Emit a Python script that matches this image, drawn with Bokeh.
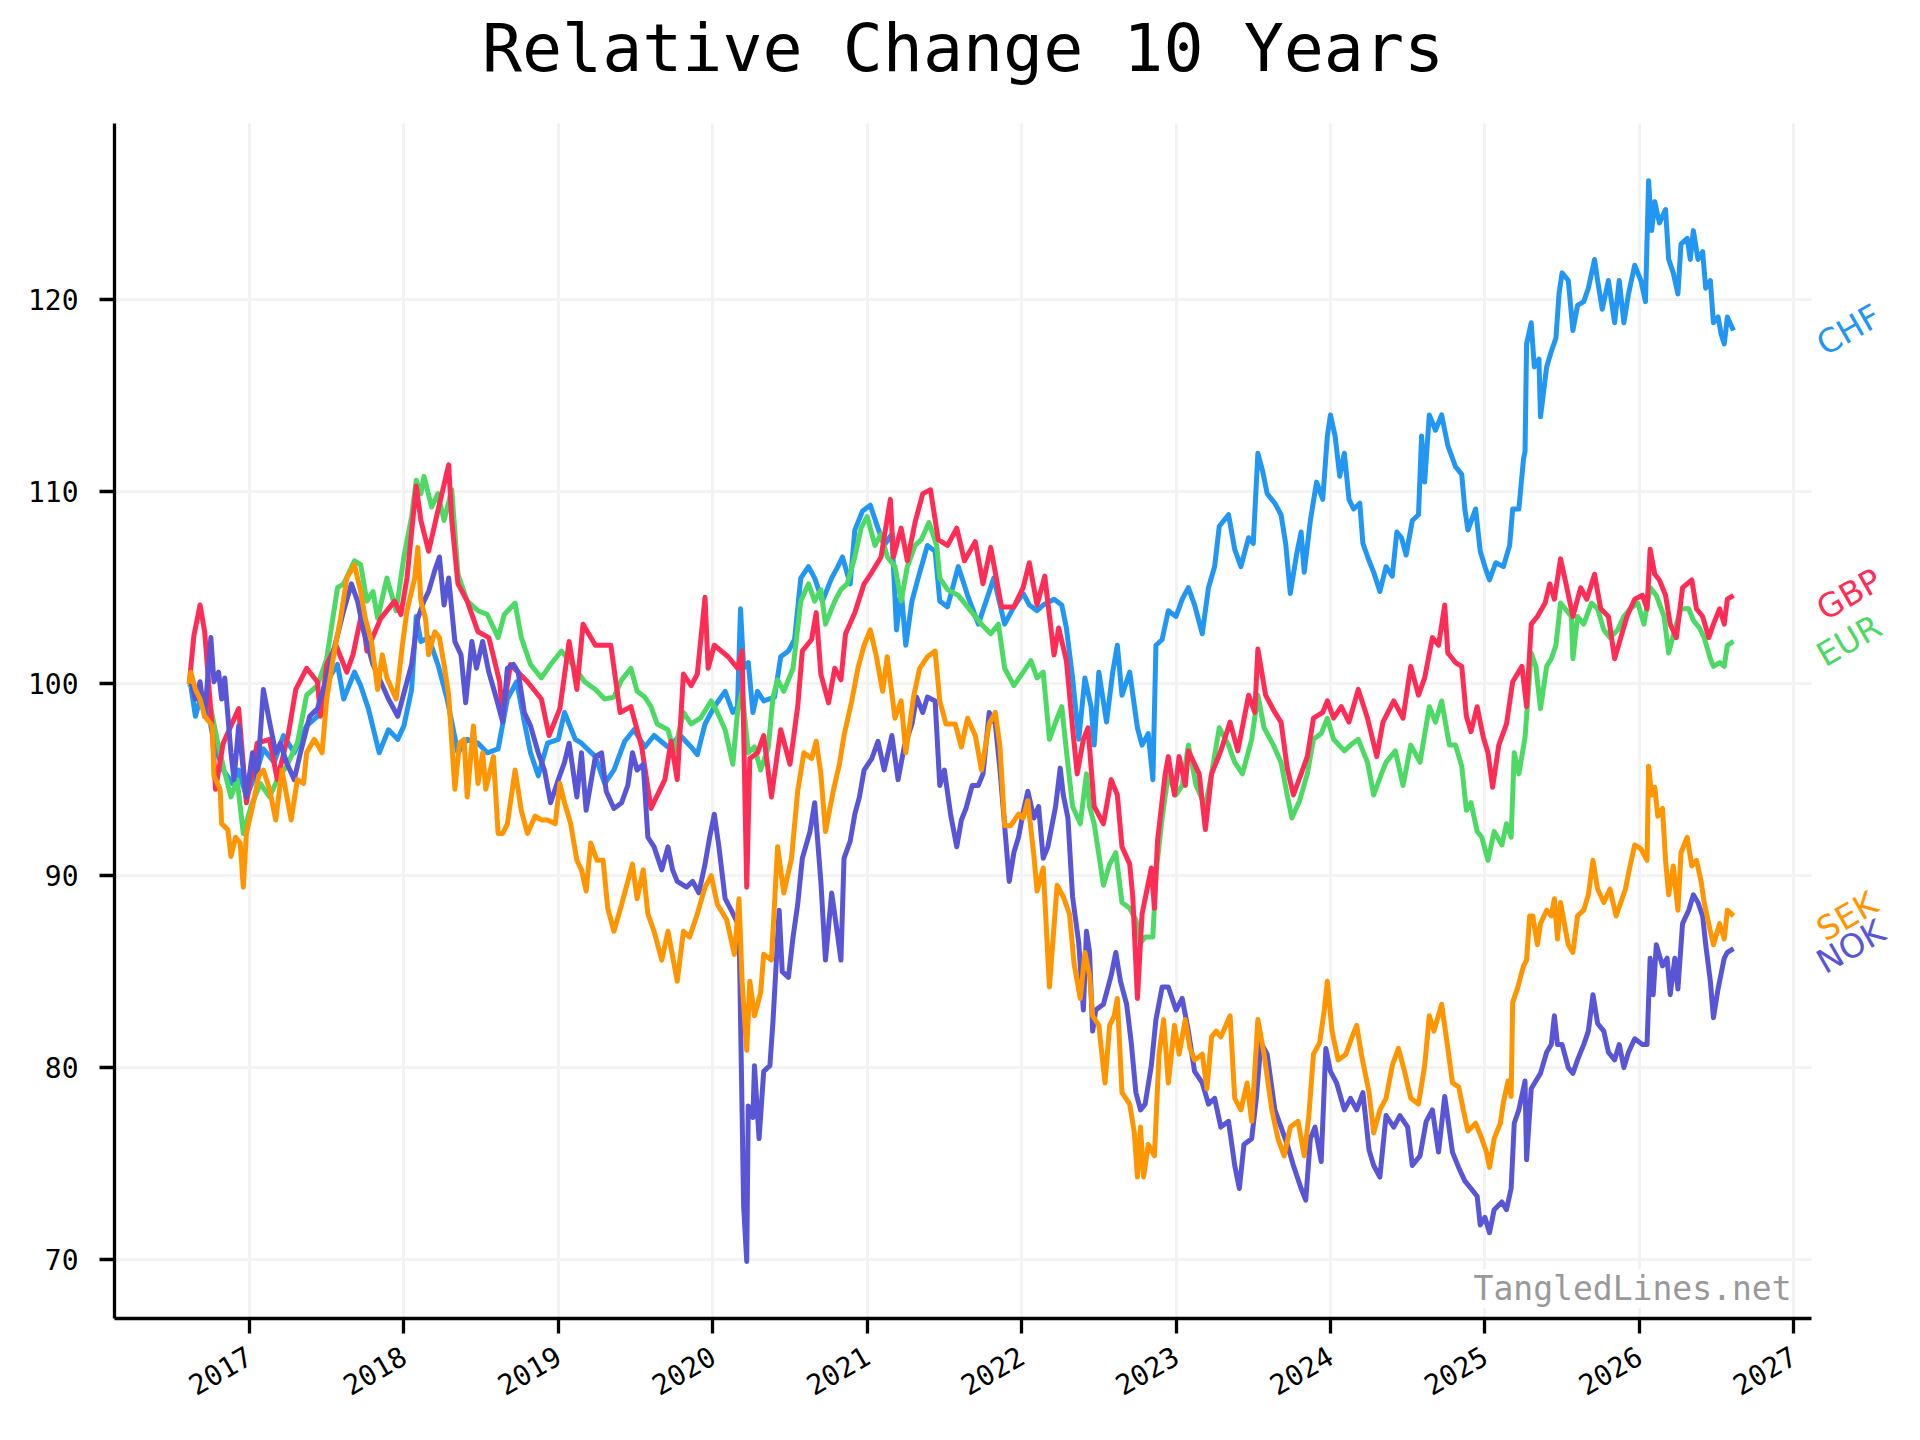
import math
from bokeh.plotting import figure
from bokeh.models import FixedTicker, Label, Range1d
from bokeh.embed import file_html
from bokeh.resources import INLINE

# relative change (start = 100), x in decimal years
chf = [
    (2016.61, 100.0), (2016.62, 99.9), (2016.65, 98.3), (2016.68, 99.2), (2016.73, 98.7), (2016.77, 96.9),
    (2016.83, 95.5), (2016.89, 94.8), (2016.93, 95.5), (2016.98, 94.1), (2017.05, 95.5), (2017.09, 96.6),
    (2017.16, 95.9), (2017.22, 97.3), (2017.29, 96.4), (2017.37, 97.8), (2017.44, 98.3), (2017.50, 100.1),
    (2017.57, 101.0), (2017.61, 99.2), (2017.68, 100.6), (2017.72, 99.9), (2017.77, 98.7), (2017.84, 96.4),
    (2017.90, 97.6), (2017.96, 97.1), (2018.00, 97.8), (2018.05, 99.7), (2018.08, 103.5), (2018.11, 102.2),
    (2018.16, 102.4), (2018.22, 101.0), (2018.28, 99.2), (2018.35, 96.4), (2018.41, 97.1), (2018.48, 96.9),
    (2018.54, 96.4), (2018.61, 96.6), (2018.67, 99.2), (2018.73, 100.1), (2018.78, 98.0), (2018.82, 96.4),
    (2018.87, 95.2), (2018.93, 96.9), (2019.00, 97.1), (2019.04, 98.5), (2019.11, 97.1), (2019.15, 96.9),
    (2019.24, 96.2), (2019.30, 94.8), (2019.36, 95.5), (2019.43, 97.0), (2019.49, 97.6), (2019.56, 96.7),
    (2019.62, 97.3), (2019.71, 96.7), (2019.79, 97.3), (2019.86, 96.7), (2019.90, 96.3), (2019.95, 97.9),
    (2020.01, 98.8), (2020.08, 99.6), (2020.13, 98.5), (2020.16, 98.8), (2020.18, 103.9), (2020.20, 100.8),
    (2020.23, 101.1), (2020.26, 98.5), (2020.29, 99.6), (2020.33, 99.1), (2020.40, 99.3), (2020.44, 101.4),
    (2020.49, 101.7), (2020.53, 102.3), (2020.57, 105.5), (2020.62, 106.1), (2020.66, 105.5), (2020.71, 104.3),
    (2020.77, 105.5), (2020.81, 106.1), (2020.84, 106.6), (2020.89, 105.2), (2020.92, 108.0), (2020.97, 109.0),
    (2021.02, 109.3), (2021.07, 108.1), (2021.11, 107.2), (2021.16, 107.8), (2021.19, 102.8), (2021.22, 104.9),
    (2021.25, 102.0), (2021.29, 104.3), (2021.33, 105.5), (2021.39, 107.2), (2021.44, 106.9), (2021.47, 104.3),
    (2021.52, 104.0), (2021.59, 106.1), (2021.65, 104.6), (2021.72, 103.1), (2021.77, 104.3), (2021.82, 105.5),
    (2021.89, 103.1), (2021.95, 104.0), (2022.01, 104.7), (2022.05, 104.1), (2022.10, 103.8), (2022.14, 104.1),
    (2022.21, 104.4), (2022.26, 104.1), (2022.29, 102.9), (2022.33, 100.3), (2022.37, 97.1), (2022.41, 100.3),
    (2022.45, 98.8), (2022.47, 96.8), (2022.50, 100.6), (2022.55, 98.0), (2022.59, 100.6), (2022.62, 102.0),
    (2022.65, 99.4), (2022.70, 100.6), (2022.75, 97.7), (2022.78, 96.8), (2022.82, 97.4), (2022.85, 95.0),
    (2022.87, 102.0), (2022.91, 102.3), (2022.95, 103.8), (2023.00, 103.5), (2023.04, 104.4), (2023.08, 105.0),
    (2023.12, 104.1), (2023.17, 102.6), (2023.21, 105.0), (2023.25, 106.1), (2023.28, 108.2), (2023.34, 108.8),
    (2023.38, 107.0), (2023.42, 106.1), (2023.47, 107.6), (2023.50, 107.3), (2023.53, 112.0), (2023.56, 111.1),
    (2023.59, 109.9), (2023.64, 109.4), (2023.68, 108.8), (2023.71, 107.3), (2023.74, 104.7), (2023.78, 106.7),
    (2023.81, 107.9), (2023.83, 105.8), (2023.87, 108.5), (2023.91, 110.5), (2023.95, 109.6), (2023.98, 112.9),
    (2024.00, 114.0), (2024.03, 112.9), (2024.06, 110.8), (2024.09, 112.0), (2024.12, 109.6), (2024.15, 109.1),
    (2024.19, 109.4), (2024.21, 107.3), (2024.25, 106.4), (2024.28, 105.8), (2024.32, 104.8), (2024.36, 106.1),
    (2024.40, 105.6), (2024.43, 107.9), (2024.46, 107.6), (2024.49, 106.7), (2024.53, 108.5), (2024.57, 108.8),
    (2024.59, 112.9), (2024.61, 110.5), (2024.64, 114.0), (2024.68, 113.2), (2024.72, 114.0), (2024.76, 112.4),
    (2024.81, 111.3), (2024.85, 110.9), (2024.87, 109.1), (2024.89, 108.0), (2024.94, 109.1), (2024.97, 106.9),
    (2025.00, 106.1), (2025.03, 105.4), (2025.07, 106.3), (2025.12, 106.1), (2025.16, 107.2), (2025.18, 109.1),
    (2025.22, 109.1), (2025.25, 111.7), (2025.26, 112.1), (2025.27, 117.7), (2025.30, 118.8), (2025.32, 116.5),
    (2025.35, 116.9), (2025.36, 113.9), (2025.40, 116.5), (2025.43, 117.3), (2025.46, 118.0), (2025.48, 120.3),
    (2025.50, 121.4), (2025.54, 121.0), (2025.57, 118.4), (2025.60, 119.7), (2025.64, 119.9), (2025.67, 120.6),
    (2025.71, 122.1), (2025.73, 121.0), (2025.76, 119.5), (2025.80, 121.0), (2025.84, 118.8), (2025.87, 121.0),
    (2025.90, 118.8), (2025.93, 120.3), (2025.97, 121.8), (2026.01, 121.0), (2026.04, 119.9), (2026.06, 126.2),
    (2026.08, 123.6), (2026.10, 125.1), (2026.13, 124.0), (2026.17, 124.7), (2026.19, 122.1), (2026.22, 121.4),
    (2026.25, 120.3), (2026.27, 122.9), (2026.31, 123.2), (2026.33, 122.1), (2026.35, 123.6), (2026.38, 122.1),
    (2026.41, 122.5), (2026.43, 120.6), (2026.46, 121.0), (2026.48, 118.8), (2026.51, 119.1), (2026.53, 118.2),
    (2026.55, 117.7), (2026.57, 119.1), (2026.61, 118.4),
]

eur = [
    (2016.61, 100.0), (2016.62, 99.9), (2016.68, 99.2), (2016.75, 98.7), (2016.79, 97.1), (2016.83, 95.7),
    (2016.88, 94.1), (2016.92, 95.0), (2016.96, 92.2), (2017.01, 93.6), (2017.07, 94.8), (2017.13, 94.1),
    (2017.18, 95.0), (2017.24, 95.7), (2017.31, 96.9), (2017.37, 99.4), (2017.44, 99.9), (2017.50, 101.3),
    (2017.57, 105.0), (2017.61, 105.2), (2017.68, 106.4), (2017.72, 106.2), (2017.76, 104.3), (2017.80, 104.8),
    (2017.83, 103.4), (2017.89, 105.5), (2017.95, 103.8), (2018.00, 106.6), (2018.05, 108.7), (2018.08, 110.6),
    (2018.11, 109.9), (2018.13, 110.8), (2018.18, 109.2), (2018.22, 109.9), (2018.26, 108.5), (2018.31, 110.1),
    (2018.35, 105.7), (2018.41, 104.3), (2018.48, 103.8), (2018.54, 103.6), (2018.61, 102.4), (2018.65, 103.6),
    (2018.72, 104.2), (2018.76, 102.4), (2018.82, 101.0), (2018.89, 100.3), (2018.95, 101.0), (2019.02, 101.7),
    (2019.11, 100.8), (2019.17, 100.1), (2019.24, 99.7), (2019.30, 99.2), (2019.36, 99.3), (2019.41, 100.2),
    (2019.47, 100.8), (2019.51, 99.6), (2019.56, 99.3), (2019.60, 98.8), (2019.64, 97.9), (2019.71, 97.6),
    (2019.75, 96.4), (2019.81, 98.5), (2019.86, 97.9), (2019.92, 98.2), (2019.99, 99.1), (2020.03, 98.5),
    (2020.08, 97.6), (2020.13, 95.8), (2020.16, 98.5), (2020.19, 99.6), (2020.23, 96.4), (2020.27, 96.7),
    (2020.31, 95.5), (2020.36, 96.7), (2020.39, 99.3), (2020.42, 100.2), (2020.46, 99.6), (2020.52, 100.8),
    (2020.57, 104.3), (2020.62, 105.2), (2020.66, 104.3), (2020.70, 104.9), (2020.73, 103.1), (2020.79, 104.3),
    (2020.83, 104.9), (2020.87, 105.2), (2020.92, 106.6), (2020.96, 108.1), (2021.00, 108.7), (2021.05, 107.2),
    (2021.09, 107.8), (2021.13, 106.6), (2021.18, 106.1), (2021.22, 104.3), (2021.26, 106.1), (2021.31, 107.2),
    (2021.35, 107.5), (2021.40, 108.4), (2021.45, 107.2), (2021.47, 105.5), (2021.52, 104.9), (2021.59, 104.6),
    (2021.65, 104.0), (2021.74, 103.1), (2021.80, 102.6), (2021.85, 103.1), (2021.89, 100.8), (2021.95, 99.9),
    (2022.01, 100.6), (2022.06, 101.2), (2022.10, 100.3), (2022.14, 100.6), (2022.18, 97.1), (2022.23, 98.2),
    (2022.26, 98.8), (2022.29, 96.5), (2022.33, 93.6), (2022.38, 92.7), (2022.42, 95.3), (2022.44, 93.6),
    (2022.47, 92.7), (2022.53, 89.5), (2022.57, 90.6), (2022.61, 91.2), (2022.65, 88.6), (2022.70, 88.3),
    (2022.74, 87.7), (2022.77, 86.5), (2022.80, 86.8), (2022.85, 86.8), (2022.87, 90.1), (2022.91, 93.0),
    (2022.95, 95.3), (2023.00, 94.2), (2023.04, 94.7), (2023.08, 96.8), (2023.13, 94.7), (2023.19, 93.6),
    (2023.23, 95.3), (2023.28, 97.7), (2023.34, 96.8), (2023.38, 95.9), (2023.43, 95.3), (2023.49, 97.1),
    (2023.53, 99.4), (2023.57, 97.7), (2023.63, 96.8), (2023.68, 95.9), (2023.72, 94.2), (2023.75, 93.0),
    (2023.80, 93.9), (2023.85, 95.3), (2023.89, 97.1), (2023.94, 97.4), (2023.98, 98.2), (2024.02, 97.1),
    (2024.09, 96.5), (2024.13, 96.8), (2024.18, 97.1), (2024.24, 95.9), (2024.28, 94.2), (2024.33, 95.3),
    (2024.36, 95.9), (2024.42, 96.5), (2024.47, 94.7), (2024.52, 96.8), (2024.58, 95.9), (2024.64, 98.8),
    (2024.68, 98.0), (2024.72, 99.1), (2024.77, 96.8), (2024.81, 96.8), (2024.85, 95.7), (2024.88, 93.4),
    (2024.91, 93.8), (2024.95, 92.3), (2024.98, 92.0), (2025.02, 90.8), (2025.06, 92.3), (2025.11, 91.6),
    (2025.14, 92.7), (2025.17, 92.0), (2025.19, 96.4), (2025.22, 95.3), (2025.26, 97.2), (2025.28, 99.4),
    (2025.30, 101.6), (2025.33, 100.9), (2025.36, 98.7), (2025.40, 100.9), (2025.43, 101.3), (2025.46, 102.0),
    (2025.49, 104.2), (2025.52, 103.9), (2025.56, 103.5), (2025.57, 101.3), (2025.60, 103.5), (2025.64, 103.1),
    (2025.69, 104.2), (2025.73, 103.9), (2025.77, 102.8), (2025.81, 102.4), (2025.86, 102.8), (2025.90, 103.5),
    (2025.94, 103.9), (2025.99, 104.2), (2026.03, 103.1), (2026.07, 105.0), (2026.11, 104.6), (2026.16, 103.5),
    (2026.19, 101.6), (2026.23, 102.8), (2026.27, 103.9), (2026.32, 103.9), (2026.35, 103.3), (2026.39, 102.9),
    (2026.42, 102.4), (2026.46, 101.3), (2026.48, 100.9), (2026.52, 101.1), (2026.55, 100.9), (2026.57, 102.0),
    (2026.61, 102.2),
]

gbp = [
    (2016.61, 100.0), (2016.64, 102.5), (2016.68, 104.1), (2016.71, 102.7), (2016.76, 97.5), (2016.78, 94.5),
    (2016.83, 96.9), (2016.93, 98.7), (2016.98, 93.8), (2017.05, 96.9), (2017.13, 97.1), (2017.18, 95.0),
    (2017.25, 97.3), (2017.30, 99.7), (2017.37, 100.8), (2017.44, 100.1), (2017.46, 98.3), (2017.50, 101.0),
    (2017.56, 102.0), (2017.63, 100.6), (2017.67, 101.5), (2017.73, 103.8), (2017.76, 101.7), (2017.85, 103.4),
    (2017.94, 104.3), (2017.98, 103.6), (2018.02, 105.5), (2018.08, 110.3), (2018.11, 108.5), (2018.16, 106.9),
    (2018.22, 109.0), (2018.29, 111.4), (2018.31, 108.5), (2018.35, 105.2), (2018.41, 104.3), (2018.48, 102.7),
    (2018.55, 102.4), (2018.62, 100.1), (2018.64, 98.3), (2018.69, 101.0), (2018.80, 100.1), (2018.89, 99.2),
    (2018.94, 97.3), (2019.01, 98.7), (2019.07, 102.2), (2019.12, 99.7), (2019.16, 103.1), (2019.24, 102.0),
    (2019.34, 102.0), (2019.40, 98.5), (2019.47, 98.8), (2019.54, 96.7), (2019.60, 93.5), (2019.69, 95.0),
    (2019.73, 97.0), (2019.77, 95.0), (2019.81, 100.5), (2019.86, 99.9), (2019.90, 100.5), (2019.95, 104.5),
    (2019.97, 100.8), (2020.01, 102.0), (2020.10, 101.4), (2020.16, 100.8), (2020.19, 101.7), (2020.22, 89.4),
    (2020.24, 96.1), (2020.29, 96.4), (2020.33, 97.3), (2020.38, 94.1), (2020.44, 97.6), (2020.50, 95.8),
    (2020.55, 98.8), (2020.58, 101.7), (2020.64, 102.3), (2020.67, 103.7), (2020.70, 100.5), (2020.75, 99.0),
    (2020.79, 100.8), (2020.83, 100.2), (2020.86, 102.6), (2020.92, 103.7), (2020.98, 105.2), (2021.03, 105.8),
    (2021.09, 106.6), (2021.15, 109.6), (2021.17, 106.6), (2021.22, 108.1), (2021.26, 106.4), (2021.31, 108.4),
    (2021.36, 109.9), (2021.41, 110.1), (2021.46, 107.5), (2021.52, 107.2), (2021.58, 108.1), (2021.63, 106.4),
    (2021.70, 107.4), (2021.75, 105.2), (2021.80, 107.1), (2021.87, 104.0), (2021.95, 104.0), (2022.01, 105.0),
    (2022.05, 106.3), (2022.10, 104.1), (2022.15, 105.6), (2022.21, 101.5), (2022.24, 102.9), (2022.29, 101.2),
    (2022.33, 97.7), (2022.36, 95.3), (2022.40, 97.1), (2022.43, 97.7), (2022.47, 93.6), (2022.53, 92.7),
    (2022.58, 95.0), (2022.62, 94.2), (2022.65, 91.5), (2022.70, 90.6), (2022.72, 88.9), (2022.75, 83.6),
    (2022.78, 88.0), (2022.84, 90.4), (2022.86, 88.3), (2022.88, 91.8), (2022.93, 95.3), (2022.95, 96.2),
    (2022.99, 94.2), (2023.02, 96.2), (2023.06, 94.7), (2023.08, 96.5), (2023.15, 95.3), (2023.19, 92.4),
    (2023.23, 95.3), (2023.29, 96.5), (2023.35, 98.0), (2023.40, 96.5), (2023.47, 99.4), (2023.51, 98.5),
    (2023.53, 101.8), (2023.58, 99.4), (2023.64, 98.5), (2023.68, 98.0), (2023.72, 95.6), (2023.76, 94.2),
    (2023.81, 95.3), (2023.85, 96.2), (2023.89, 98.2), (2023.95, 98.5), (2023.98, 99.1), (2024.02, 98.2),
    (2024.07, 98.8), (2024.12, 98.0), (2024.18, 99.7), (2024.24, 98.2), (2024.30, 96.2), (2024.34, 98.0),
    (2024.41, 99.1), (2024.47, 98.2), (2024.52, 100.9), (2024.57, 99.4), (2024.61, 100.3), (2024.66, 102.4),
    (2024.70, 102.0), (2024.74, 104.1), (2024.76, 101.6), (2024.81, 101.1), (2024.85, 100.9), (2024.88, 98.3),
    (2024.91, 97.5), (2024.95, 98.8), (2024.99, 97.2), (2025.02, 96.4), (2025.05, 94.6), (2025.09, 96.8),
    (2025.14, 97.9), (2025.18, 100.1), (2025.24, 100.9), (2025.27, 98.8), (2025.30, 103.1), (2025.34, 103.5),
    (2025.39, 104.2), (2025.42, 105.2), (2025.45, 104.4), (2025.49, 106.5), (2025.52, 105.4), (2025.57, 103.5),
    (2025.62, 105.0), (2025.66, 104.4), (2025.71, 105.7), (2025.75, 103.9), (2025.80, 103.5), (2025.84, 101.3),
    (2025.88, 102.4), (2025.92, 103.5), (2025.97, 104.4), (2026.02, 104.6), (2026.05, 103.9), (2026.07, 107.0),
    (2026.10, 105.7), (2026.13, 105.4), (2026.17, 104.6), (2026.20, 103.1), (2026.24, 102.4), (2026.28, 105.0),
    (2026.34, 105.4), (2026.37, 103.9), (2026.41, 103.5), (2026.45, 102.4), (2026.48, 103.1), (2026.52, 103.9),
    (2026.55, 103.1), (2026.57, 104.4), (2026.61, 104.6),
]

nok = [
    (2016.61, 100.0), (2016.62, 100.1), (2016.65, 99.2), (2016.68, 100.1), (2016.71, 98.3), (2016.75, 102.4),
    (2016.77, 100.1), (2016.80, 100.6), (2016.82, 99.2), (2016.84, 100.3), (2016.88, 96.4), (2016.90, 95.0),
    (2016.93, 97.8), (2016.96, 95.5), (2016.98, 94.1), (2017.02, 96.4), (2017.05, 95.0), (2017.09, 99.7),
    (2017.13, 98.0), (2017.17, 96.4), (2017.20, 96.9), (2017.24, 95.9), (2017.29, 95.0), (2017.33, 96.4),
    (2017.39, 98.3), (2017.44, 98.7), (2017.50, 100.3), (2017.56, 102.2), (2017.61, 103.8), (2017.66, 105.2),
    (2017.70, 104.3), (2017.74, 102.7), (2017.80, 101.0), (2017.85, 100.1), (2017.90, 99.2), (2017.96, 98.3),
    (2017.99, 99.2), (2018.05, 101.0), (2018.09, 103.4), (2018.13, 104.3), (2018.16, 104.8), (2018.20, 105.9),
    (2018.23, 106.6), (2018.26, 104.1), (2018.29, 105.5), (2018.33, 102.2), (2018.37, 101.5), (2018.40, 99.0),
    (2018.44, 102.2), (2018.47, 100.8), (2018.51, 102.2), (2018.55, 100.6), (2018.60, 99.2), (2018.64, 98.0),
    (2018.67, 100.8), (2018.71, 101.0), (2018.74, 100.6), (2018.78, 98.5), (2018.82, 97.8), (2018.87, 96.4),
    (2018.91, 95.5), (2018.95, 93.8), (2019.00, 95.0), (2019.04, 95.9), (2019.07, 96.9), (2019.12, 94.1),
    (2019.15, 96.4), (2019.18, 93.4), (2019.24, 96.2), (2019.28, 96.4), (2019.31, 94.4), (2019.36, 93.5),
    (2019.41, 93.8), (2019.45, 94.7), (2019.48, 96.4), (2019.51, 95.5), (2019.55, 95.8), (2019.58, 92.0),
    (2019.62, 91.5), (2019.67, 90.3), (2019.71, 91.5), (2019.74, 90.3), (2019.77, 89.7), (2019.83, 89.4),
    (2019.87, 89.7), (2019.91, 89.1), (2019.95, 90.6), (2019.98, 92.0), (2020.01, 93.2), (2020.04, 91.5),
    (2020.08, 88.8), (2020.12, 88.2), (2020.15, 87.7), (2020.17, 87.4), (2020.20, 72.8), (2020.22, 69.9),
    (2020.23, 78.0), (2020.26, 77.4), (2020.27, 80.1), (2020.30, 76.3), (2020.33, 79.8), (2020.37, 80.1),
    (2020.39, 82.4), (2020.41, 85.3), (2020.43, 88.2), (2020.45, 85.0), (2020.49, 84.7), (2020.52, 86.8),
    (2020.55, 88.5), (2020.58, 90.9), (2020.63, 92.3), (2020.66, 93.8), (2020.70, 89.7), (2020.73, 85.6),
    (2020.77, 89.1), (2020.80, 87.4), (2020.83, 85.6), (2020.85, 90.9), (2020.89, 91.8), (2020.92, 93.2),
    (2020.95, 94.1), (2020.98, 95.5), (2021.03, 96.1), (2021.07, 97.0), (2021.11, 95.5), (2021.16, 97.3),
    (2021.20, 95.0), (2021.24, 96.7), (2021.29, 97.9), (2021.32, 99.3), (2021.36, 98.5), (2021.39, 99.3),
    (2021.44, 99.1), (2021.47, 94.7), (2021.50, 95.5), (2021.54, 93.2), (2021.58, 91.5), (2021.61, 92.9),
    (2021.64, 93.5), (2021.68, 94.7), (2021.72, 94.7), (2021.75, 95.3), (2021.79, 98.5), (2021.83, 97.9),
    (2021.86, 95.5), (2021.89, 92.6), (2021.92, 89.7), (2021.95, 91.2), (2021.98, 92.0), (2022.01, 93.3),
    (2022.04, 94.4), (2022.08, 93.0), (2022.11, 93.6), (2022.14, 90.9), (2022.17, 91.5), (2022.22, 93.6),
    (2022.25, 95.6), (2022.27, 94.2), (2022.30, 93.0), (2022.33, 88.9), (2022.37, 86.5), (2022.40, 83.0),
    (2022.42, 87.1), (2022.44, 86.0), (2022.46, 81.9), (2022.48, 83.0), (2022.53, 83.3), (2022.58, 84.8),
    (2022.61, 86.0), (2022.64, 84.5), (2022.68, 83.3), (2022.71, 81.3), (2022.74, 78.7), (2022.77, 77.8),
    (2022.80, 78.1), (2022.84, 80.1), (2022.87, 82.5), (2022.91, 84.2), (2022.95, 84.2), (2023.00, 83.0),
    (2023.04, 83.6), (2023.08, 81.9), (2023.12, 79.8), (2023.17, 79.2), (2023.21, 78.1), (2023.25, 78.4),
    (2023.29, 76.9), (2023.34, 77.2), (2023.38, 74.9), (2023.41, 73.7), (2023.44, 76.0), (2023.49, 76.3),
    (2023.52, 78.4), (2023.55, 81.3), (2023.59, 80.7), (2023.64, 77.8), (2023.68, 76.9), (2023.72, 76.0),
    (2023.76, 74.9), (2023.81, 73.7), (2023.84, 73.1), (2023.87, 76.3), (2023.90, 76.9), (2023.94, 75.1),
    (2023.97, 81.0), (2024.00, 79.8), (2024.04, 79.2), (2024.09, 77.8), (2024.13, 78.4), (2024.17, 77.8),
    (2024.21, 78.7), (2024.25, 75.7), (2024.28, 74.9), (2024.32, 74.3), (2024.36, 77.5), (2024.41, 76.9),
    (2024.45, 77.5), (2024.50, 76.9), (2024.53, 74.9), (2024.58, 75.4), (2024.62, 77.2), (2024.66, 77.8),
    (2024.70, 75.6), (2024.74, 78.5), (2024.79, 75.6), (2024.83, 74.8), (2024.87, 74.1), (2024.91, 73.7),
    (2024.95, 73.3), (2024.97, 71.8), (2025.00, 72.2), (2025.03, 71.4), (2025.06, 72.6), (2025.11, 73.0),
    (2025.14, 72.6), (2025.17, 73.7), (2025.19, 77.1), (2025.22, 77.8), (2025.26, 79.3), (2025.27, 75.2),
    (2025.30, 78.9), (2025.33, 79.3), (2025.36, 79.7), (2025.40, 80.8), (2025.43, 81.2), (2025.45, 82.7),
    (2025.47, 81.2), (2025.50, 81.2), (2025.54, 80.0), (2025.57, 79.7), (2025.60, 80.4), (2025.64, 81.2),
    (2025.67, 81.9), (2025.70, 83.8), (2025.73, 82.3), (2025.77, 81.9), (2025.80, 80.8), (2025.84, 80.4),
    (2025.87, 81.2), (2025.90, 80.0), (2025.93, 80.8), (2025.97, 81.5), (2026.02, 81.2), (2026.05, 81.2),
    (2026.07, 85.7), (2026.09, 83.8), (2026.11, 86.4), (2026.15, 85.3), (2026.18, 85.7), (2026.20, 83.8),
    (2026.23, 85.7), (2026.25, 84.1), (2026.28, 87.5), (2026.32, 88.2), (2026.35, 89.0), (2026.38, 88.6),
    (2026.41, 87.9), (2026.43, 86.4), (2026.46, 84.5), (2026.48, 82.6), (2026.51, 84.1), (2026.53, 84.9),
    (2026.55, 85.7), (2026.57, 86.0), (2026.61, 86.2),
]

sek = [
    (2016.61, 100.0), (2016.62, 100.6), (2016.65, 99.7), (2016.68, 99.2), (2016.71, 98.3), (2016.76, 97.8),
    (2016.77, 95.2), (2016.81, 94.5), (2016.82, 92.7), (2016.86, 92.4), (2016.88, 91.0), (2016.91, 92.0),
    (2016.94, 91.7), (2016.96, 89.4), (2016.98, 92.2), (2017.02, 93.6), (2017.06, 95.2), (2017.09, 95.5),
    (2017.13, 94.5), (2017.17, 92.9), (2017.21, 95.5), (2017.27, 92.9), (2017.31, 95.0), (2017.35, 94.8),
    (2017.37, 96.4), (2017.42, 97.1), (2017.47, 96.4), (2017.50, 99.2), (2017.55, 101.7), (2017.59, 103.4),
    (2017.63, 105.5), (2017.68, 106.2), (2017.72, 104.8), (2017.75, 103.4), (2017.79, 102.2), (2017.83, 99.7),
    (2017.86, 101.5), (2017.89, 100.3), (2017.95, 99.2), (2017.99, 102.0), (2018.02, 103.8), (2018.07, 105.5),
    (2018.09, 107.1), (2018.11, 104.3), (2018.14, 103.4), (2018.16, 101.5), (2018.20, 102.7), (2018.23, 102.4),
    (2018.26, 101.0), (2018.29, 99.4), (2018.33, 94.5), (2018.36, 96.9), (2018.39, 97.1), (2018.41, 94.1),
    (2018.45, 97.8), (2018.48, 94.8), (2018.51, 96.4), (2018.53, 94.5), (2018.58, 96.2), (2018.61, 92.2),
    (2018.64, 92.2), (2018.67, 92.7), (2018.72, 95.5), (2018.76, 93.4), (2018.80, 92.2), (2018.85, 93.1),
    (2018.89, 92.9), (2018.93, 92.9), (2018.98, 92.7), (2019.01, 94.8), (2019.04, 93.8), (2019.08, 92.7),
    (2019.12, 90.8), (2019.15, 90.3), (2019.18, 89.2), (2019.21, 91.7), (2019.25, 90.8), (2019.29, 90.8),
    (2019.32, 88.3), (2019.36, 87.1), (2019.41, 88.5), (2019.44, 89.4), (2019.48, 90.6), (2019.51, 88.8),
    (2019.55, 90.3), (2019.58, 88.0), (2019.62, 87.1), (2019.67, 85.6), (2019.71, 87.1), (2019.77, 84.5),
    (2019.81, 87.1), (2019.85, 86.8), (2019.90, 88.0), (2019.95, 89.4), (2019.99, 90.0), (2020.03, 88.5),
    (2020.09, 87.7), (2020.14, 85.9), (2020.17, 88.8), (2020.19, 84.5), (2020.22, 80.9), (2020.24, 84.5),
    (2020.27, 82.7), (2020.31, 83.9), (2020.33, 85.9), (2020.38, 85.6), (2020.42, 91.5), (2020.46, 89.1),
    (2020.51, 90.9), (2020.55, 94.4), (2020.59, 96.4), (2020.64, 96.1), (2020.67, 97.0), (2020.70, 95.3),
    (2020.73, 92.3), (2020.78, 94.4), (2020.82, 95.8), (2020.85, 97.3), (2020.90, 99.1), (2020.94, 100.8),
    (2020.98, 102.0), (2021.02, 102.8), (2021.06, 101.4), (2021.10, 99.6), (2021.13, 101.4), (2021.18, 98.2),
    (2021.22, 99.1), (2021.25, 96.4), (2021.30, 99.3), (2021.34, 100.8), (2021.39, 101.4), (2021.44, 101.7),
    (2021.47, 99.1), (2021.51, 97.9), (2021.57, 97.9), (2021.61, 96.7), (2021.65, 98.2), (2021.70, 97.3),
    (2021.74, 95.5), (2021.79, 97.9), (2021.83, 98.5), (2021.86, 96.7), (2021.89, 92.6), (2021.93, 92.6),
    (2021.98, 93.2), (2022.01, 93.0), (2022.04, 93.9), (2022.08, 91.0), (2022.10, 89.2), (2022.14, 90.4),
    (2022.18, 84.2), (2022.23, 89.5), (2022.27, 88.9), (2022.31, 88.0), (2022.34, 85.4), (2022.38, 83.6),
    (2022.41, 86.0), (2022.44, 84.8), (2022.46, 82.7), (2022.50, 82.2), (2022.54, 79.2), (2022.57, 82.2),
    (2022.60, 82.7), (2022.62, 83.6), (2022.65, 78.7), (2022.70, 78.1), (2022.73, 76.6), (2022.75, 74.3),
    (2022.77, 76.9), (2022.79, 74.3), (2022.82, 76.0), (2022.86, 75.4), (2022.89, 80.7), (2022.92, 82.5),
    (2022.95, 79.2), (2022.99, 82.2), (2023.02, 80.7), (2023.06, 82.5), (2023.09, 81.0), (2023.12, 80.4),
    (2023.17, 80.7), (2023.20, 78.9), (2023.23, 81.6), (2023.26, 81.9), (2023.29, 81.6), (2023.35, 82.7),
    (2023.38, 78.4), (2023.42, 77.8), (2023.46, 79.2), (2023.49, 77.2), (2023.53, 82.5), (2023.57, 80.7),
    (2023.62, 77.8), (2023.66, 76.3), (2023.70, 75.4), (2023.74, 76.9), (2023.79, 77.2), (2023.83, 75.4),
    (2023.86, 77.5), (2023.89, 80.7), (2023.93, 81.3), (2023.96, 83.0), (2023.98, 84.5), (2024.01, 81.9),
    (2024.05, 80.4), (2024.10, 80.7), (2024.14, 81.6), (2024.17, 82.2), (2024.20, 80.7), (2024.25, 78.7),
    (2024.28, 76.6), (2024.32, 77.8), (2024.36, 78.4), (2024.40, 80.1), (2024.44, 81.0), (2024.48, 79.8),
    (2024.52, 78.4), (2024.57, 78.1), (2024.61, 80.1), (2024.64, 82.7), (2024.67, 81.9), (2024.72, 83.3),
    (2024.76, 81.0), (2024.79, 79.2), (2024.83, 79.0), (2024.86, 77.8), (2024.89, 76.7), (2024.94, 77.1),
    (2024.98, 76.3), (2025.01, 75.6), (2025.03, 74.8), (2025.06, 76.3), (2025.10, 77.1), (2025.12, 78.2),
    (2025.15, 79.3), (2025.17, 78.5), (2025.18, 83.4), (2025.21, 84.1), (2025.25, 85.3), (2025.27, 85.6),
    (2025.29, 87.9), (2025.31, 87.9), (2025.34, 86.4), (2025.36, 87.5), (2025.40, 88.2), (2025.43, 87.9),
    (2025.45, 88.8), (2025.47, 86.7), (2025.49, 88.6), (2025.54, 86.4), (2025.57, 86.0), (2025.60, 87.9),
    (2025.64, 88.2), (2025.67, 89.0), (2025.70, 90.8), (2025.73, 89.3), (2025.77, 88.6), (2025.81, 89.3),
    (2025.85, 87.9), (2025.88, 88.6), (2025.91, 89.3), (2025.94, 90.5), (2025.97, 91.6), (2026.01, 91.4),
    (2026.05, 90.8), (2026.06, 95.7), (2026.08, 94.2), (2026.10, 94.6), (2026.12, 93.1), (2026.15, 93.5),
    (2026.17, 90.8), (2026.19, 89.0), (2026.22, 90.5), (2026.25, 88.2), (2026.27, 91.2), (2026.31, 92.0),
    (2026.34, 90.5), (2026.37, 90.8), (2026.40, 89.7), (2026.42, 88.6), (2026.46, 87.1), (2026.48, 86.4),
    (2026.52, 87.5), (2026.55, 86.7), (2026.57, 88.2), (2026.61, 87.9),
]

names = ["CHF", "EUR", "GBP", "NOK", "SEK"]
colors = ["#2196f3", "#4cd964", "#ff2d55", "#5856d6", "#ff9500"]
series = [chf, eur, gbp, nok, sek]

year_ticks = list(range(2017, 2028))
value_ticks = [70, 80, 90, 100, 110, 120]

# axis limits
x_start, x_end = 2016.126, 2027.115
y_start, y_end = 66.93, 129.18

# pixel geometry: the plot frame is larger than the axes box, so that the
# title and the rotated end labels (drawn as annotations) are not clipped
axis_w, axis_h = 1697, 1195
frame_w, frame_h = 1782, 1318
x_ext = x_start + (x_end - x_start) * frame_w / axis_w
y_ext = y_start + (y_end - y_start) * frame_h / axis_h

p = figure(frame_width=frame_w, frame_height=frame_h,
           min_border_left=114, min_border_top=0, min_border_right=4, min_border_bottom=102,
           x_range=Range1d(x_start, x_ext), y_range=Range1d(y_start, y_ext),
           output_backend="svg", toolbar_location=None)

# white cover over the part of the frame outside the axes box (hides grid lines)
p.quad(left=[x_end], right=[x_ext], bottom=[y_start], top=[y_ext], fill_color="white", line_color=None)
p.quad(left=[x_start], right=[x_end], bottom=[y_end], top=[y_ext], fill_color="white", line_color=None)

for name, color, data in zip(names, colors, series):
    xs = [d[0] for d in data]
    ys = [d[1] for d in data]
    p.line(xs, ys, line_color=color, line_width=5, line_join="round")

title = Label(x=(x_start + x_end) / 2, y=y_ext, y_offset=-47, text="Relative Change 10 Years",
              text_font="DejaVu Sans Mono", text_font_size="66.6px", text_color="black",
              text_align="center", text_baseline="alphabetic")
p.add_layout(title)

# currency names at the right end, rotated
for name, color, data in zip(names, colors, series):
    lab = Label(x=x_end, y=data[-1][1], text=name, angle=30, angle_units="deg",
                x_offset=8, y_offset=-16,
                text_font="DejaVu Sans", text_font_size="33px", text_color=color,
                text_align="left", text_baseline="alphabetic")
    p.add_layout(lab)

wm = Label(x=x_end, y=y_start, x_offset=-20, y_offset=30, text="TangledLines.net",
           text_font="DejaVu Sans Mono", text_font_size="33px", text_color="#999999",
           text_align="right", text_baseline="alphabetic",
           background_fill_color="white", background_fill_alpha=1.0)
p.add_layout(wm)

p.outline_line_color = None
p.background_fill_color = "white"
p.border_fill_color = "white"

p.xaxis.ticker = FixedTicker(ticks=year_ticks)
p.yaxis.ticker = FixedTicker(ticks=value_ticks)
p.xaxis.bounds = (x_start, x_end)
p.yaxis.bounds = (y_start, y_end)
p.xaxis.major_label_orientation = math.pi / 6

for ax in (p.xaxis, p.yaxis):
    ax.axis_line_color = "black"
    ax.axis_line_width = 3.3
    ax.major_tick_line_color = "black"
    ax.major_tick_line_width = 3.3
    ax.major_tick_out = 15
    ax.major_tick_in = 0
    ax.minor_tick_line_color = None
    ax.major_label_text_font = "DejaVu Sans Mono"
    ax.major_label_text_font_size = "28px"
    ax.major_label_text_color = "black"
p.yaxis.major_label_standoff = 21
p.xaxis.major_label_standoff = 20

p.xgrid.grid_line_color = "#f3f3f3"
p.ygrid.grid_line_color = "#f3f3f3"
p.xgrid.grid_line_width = 3
p.ygrid.grid_line_width = 3

open("out.html", "w").write(file_html(p, INLINE))
